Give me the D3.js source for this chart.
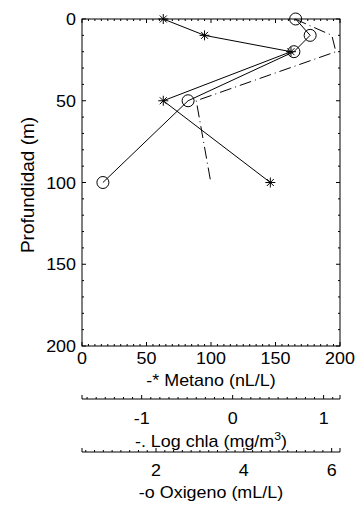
<!DOCTYPE html>
<html><head><meta charset="utf-8">
<script src="https://cdn.jsdelivr.net/npm/d3@7"></script>
<style>body{margin:0;background:#fff}svg{display:block}text{font-family:"Liberation Sans",Arial,sans-serif;fill:#000}</style>
</head><body>
<script>
const depths = [0, 10, 20, 50, 100];
const metano = [63, 95, 162, 63, 146];
const chla = [0.685, 1.09, 1.135, -0.40, -0.24];
const oxigeno = [5.18, 5.51, 5.14, 2.73, 0.79];
const depthTicks = [0, 50, 100, 150, 200];
const metanoTicks = [0, 50, 100, 150, 200];
const chlaTicks = [-1, 0, 1];
const oxTicks = [2, 4, 6];

const W = 357, H = 506;
const L = 82, R = 340, T = 19, B = 346;
const svg = d3.select("body").append("svg").attr("width", W).attr("height", H);

const y = d3.scaleLinear().domain([0, 200]).range([T, B]);
const xM = d3.scaleLinear().domain([0, 200]).range([L, R]);
const xC = d3.scaleLinear().domain([-1.656, 1.18]).range([L, R]);
const xO = d3.scaleLinear().domain([0.314, 6.19]).range([L, R]);

const FS = 16, SX = 1.12;
function txt(x, yy, s, anchor) {
  return svg.append("text").attr("transform", `translate(${x},${yy}) scale(${SX},1)`)
    .attr("text-anchor", anchor || "middle").attr("font-size", FS).text(s);
}

// frame
svg.append("rect").attr("x", L).attr("y", T).attr("width", R - L).attr("height", B - T)
  .attr("fill", "none").attr("stroke", "#000").attr("stroke-width", 1);

const tk = svg.append("g").attr("stroke", "#000").attr("stroke-width", 1);
d3.range(0, 201, 10).forEach(v => {
  const major = v % 50 === 0, s = major ? 4 : 2;
  tk.append("line").attr("x1", L).attr("x2", L + s).attr("y1", y(v)).attr("y2", y(v));
  tk.append("line").attr("x1", R).attr("x2", R - s).attr("y1", y(v)).attr("y2", y(v));
});
d3.range(0, 201, 5).forEach(v => {
  const major = v % 50 === 0, s = major ? 4 : 2;
  tk.append("line").attr("x1", xM(v)).attr("x2", xM(v)).attr("y1", B).attr("y2", B - s);
  tk.append("line").attr("x1", xM(v)).attr("x2", xM(v)).attr("y1", T).attr("y2", T + s);
});

depthTicks.forEach(v => txt(76, y(v) + 6, v, "end"));
metanoTicks.forEach(v => txt(xM(v), 364, v));
txt(211, 386, "-* Metano (nL/L)");

// secondary axis chla
const yC = 399;
svg.append("line").attr("x1", L).attr("x2", R).attr("y1", yC).attr("y2", yC).attr("stroke", "#000");
[L, R].forEach(xx => svg.append("line").attr("x1", xx).attr("x2", xx).attr("y1", yC).attr("y2", yC - 4).attr("stroke", "#000"));
d3.range(-1.6, 1.2, 0.1).forEach(v => {
  const major = Math.abs(v - Math.round(v)) < 1e-6;
  svg.append("line").attr("x1", xC(v)).attr("x2", xC(v)).attr("y1", yC).attr("y2", yC - (major ? 4 : 2)).attr("stroke", "#000");
});
chlaTicks.forEach(v => txt(xC(v), 424, v));
const tc = svg.append("text").attr("transform", `translate(211,447) scale(${SX},1)`).attr("text-anchor", "middle").attr("font-size", FS);
tc.append("tspan").text("-. Log chla (mg/m");
tc.append("tspan").attr("font-size", 11).attr("dy", -7).text("3");
tc.append("tspan").attr("dy", 7).text(")");

// secondary axis oxigeno
const yO = 452;
svg.append("line").attr("x1", L).attr("x2", R).attr("y1", yO).attr("y2", yO).attr("stroke", "#000");
[L, R].forEach(xx => svg.append("line").attr("x1", xx).attr("x2", xx).attr("y1", yO).attr("y2", yO - 4).attr("stroke", "#000"));
d3.range(0.4, 6.19, 0.2).forEach(v => {
  const major = Math.abs(v - Math.round(v)) < 1e-6 && Math.round(v) % 2 === 0;
  svg.append("line").attr("x1", xO(v)).attr("x2", xO(v)).attr("y1", yO).attr("y2", yO - (major ? 4 : 2)).attr("stroke", "#000");
});
oxTicks.forEach(v => txt(xO(v), 476, v));
txt(211, 498, "-o Oxigeno (mL/L)");

// y label
svg.append("text").attr("transform", "translate(34,185) rotate(-90)")
  .attr("text-anchor", "middle").attr("font-size", 19).text("Profundidad (m)");

// lines
const lineM = d3.line().x(d => xM(d)).y((d, i) => y(depths[i]));
const lineC = d3.line().x(d => xC(d)).y((d, i) => y(depths[i]));
const lineO = d3.line().x(d => xO(d)).y((d, i) => y(depths[i]));

svg.append("path").attr("d", lineC(chla)).attr("fill", "none").attr("stroke", "#000")
  .attr("stroke-width", 1).attr("stroke-dasharray", "12,4,1,4");
svg.append("path").attr("d", lineM(metano)).attr("fill", "none").attr("stroke", "#000").attr("stroke-width", 1);
svg.append("path").attr("d", lineO(oxigeno)).attr("fill", "none").attr("stroke", "#000").attr("stroke-width", 1);

// markers
svg.selectAll(".ox").data(oxigeno).enter().append("circle")
  .attr("cx", d => xO(d)).attr("cy", (d, i) => y(depths[i])).attr("r", 6)
  .attr("fill", "none").attr("stroke", "#000").attr("stroke-width", 1);
const star = svg.selectAll(".st").data(metano).enter().append("g")
  .attr("transform", (d, i) => `translate(${xM(d)},${y(depths[i])})`)
  .attr("stroke", "#000").attr("stroke-width", 1);
[[-5,0,5,0],[0,-5,0,5],[-3.5,-3.5,3.5,3.5],[-3.5,3.5,3.5,-3.5]].forEach(c =>
  star.append("line").attr("x1", c[0]).attr("y1", c[1]).attr("x2", c[2]).attr("y2", c[3]));
</script>
</body></html>
